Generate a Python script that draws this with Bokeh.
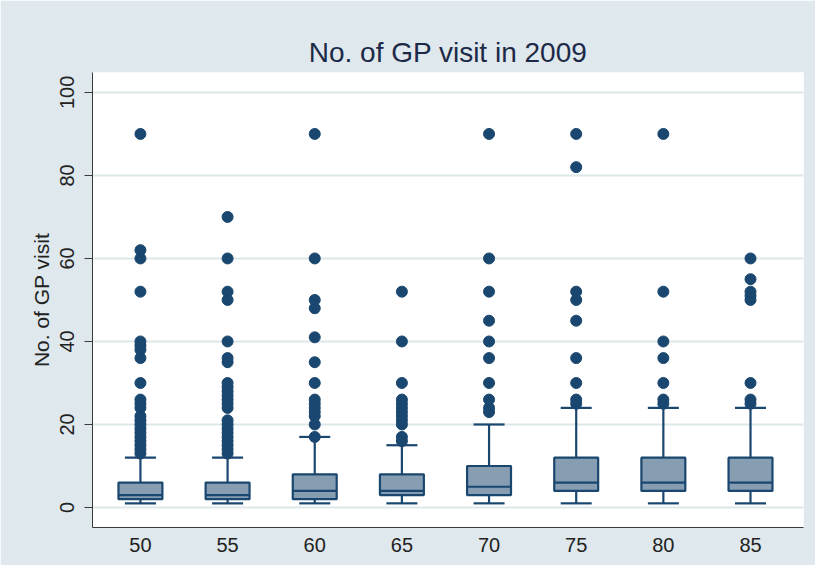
from bokeh.plotting import figure
from bokeh.models import FixedTicker, Range1d, ColumnDataSource
from bokeh.embed import file_html
from bokeh.resources import INLINE

# ---- data ----
ages = [50, 55, 60, 65, 70, 75, 80, 85]
lower_whisker = [1, 1, 1, 1, 1, 1, 1, 1]
q1 = [2, 2, 2, 3, 3, 4, 4, 4]
median = [3, 3, 4, 4, 5, 6, 6, 6]
q3 = [6, 6, 8, 8, 10, 12, 12, 12]
upper_whisker = [12, 12, 17, 15, 20, 24, 24, 24]

outliers_50 = [13, 14, 15, 16, 17, 18, 19, 20, 21, 22, 24, 25, 26, 30, 36, 38, 39, 40, 52, 60, 62, 90]
outliers_55 = [13, 14, 15, 16, 17, 18, 19, 20, 21, 24, 25, 26, 27, 28, 29, 30, 35, 36, 40, 50, 52, 60, 70]
outliers_60 = [17, 20, 22, 23, 24, 25, 26, 30, 35, 41, 48, 50, 60, 90]
outliers_65 = [16, 17, 20, 21, 22, 23, 24, 25, 26, 30, 40, 52]
outliers_70 = [23, 24, 26, 30, 36, 40, 45, 52, 60, 90]
outliers_75 = [25, 26, 30, 36, 45, 50, 52, 82, 90]
outliers_80 = [25, 26, 30, 36, 40, 52, 90]
outliers_85 = [25, 26, 30, 50, 51, 52, 55, 60]

y_ticks = [0, 20, 40, 60, 80, 100]
title_text = "No. of GP visit in 2009"
y_label = "No. of GP visit"

# ---- styling ----
DARK = "#1a476f"
FILL = "#879db2"
BG = "#dfe8ec"
box_w = 2.52
cap_w = 1.78

p = figure(width=815, height=565, output_backend="svg", toolbar_location=None,
           x_range=Range1d(47.25, 88.04), y_range=Range1d(-4.82, 104.8),
           min_border_left=92, min_border_right=12, min_border_top=72, min_border_bottom=38,
           background_fill_color="white", border_fill_color=BG, outline_line_color=None)

p.title.text = title_text
p.title.align = "center"
p.title.text_font = "Liberation Sans"
p.title.text_font_size = "28px"
p.title.text_font_style = "normal"
p.title.text_color = "#1c2a48"
p.title.standoff = 9

src = ColumnDataSource(dict(x=ages, lw=lower_whisker, q1=q1, med=median, q3=q3, uw=upper_whisker,
                            cl=[a - cap_w / 2 for a in ages], cr=[a + cap_w / 2 for a in ages],
                            bl=[a - box_w / 2 for a in ages], br=[a + box_w / 2 for a in ages]))

# whiskers
p.segment(x0="x", y0="q3", x1="x", y1="uw", source=src, line_color=DARK, line_width=2.2)
p.segment(x0="x", y0="lw", x1="x", y1="q1", source=src, line_color=DARK, line_width=2.2)
p.segment(x0="cl", y0="uw", x1="cr", y1="uw", source=src, line_color=DARK, line_width=2.2)
p.segment(x0="cl", y0="lw", x1="cr", y1="lw", source=src, line_color=DARK, line_width=2.2)
# boxes
p.vbar(x="x", width=box_w, bottom="q1", top="q3", source=src,
       fill_color=FILL, line_color=DARK, line_width=2.2)
p.segment(x0="bl", y0="med", x1="br", y1="med", source=src, line_color=DARK, line_width=2.2)

# outliers
all_out = [outliers_50, outliers_55, outliers_60, outliers_65,
           outliers_70, outliers_75, outliers_80, outliers_85]
ox, oy = [], []
for a, vals in zip(ages, all_out):
    for v in vals:
        ox.append(a)
        oy.append(v)
p.scatter(ox, oy, size=11, fill_color=DARK, line_color=DARK)

# axes
p.xaxis.ticker = FixedTicker(ticks=ages)
p.yaxis.ticker = FixedTicker(ticks=y_ticks)
p.xaxis.major_tick_out = 0
p.xaxis.major_tick_in = 0
p.xaxis.minor_tick_line_color = None
p.yaxis.minor_tick_line_color = None
p.yaxis.major_tick_in = 0
p.yaxis.major_tick_out = 8
p.xaxis.major_label_standoff = 10
p.yaxis.major_label_standoff = 10
p.yaxis.major_label_orientation = "vertical"
for ax in (p.xaxis, p.yaxis):
    ax.axis_line_color = "#3a3a3a"
    ax.major_tick_line_color = "#3a3a3a"
    ax.major_label_text_font = "Liberation Sans"
    ax.major_label_text_font_size = "20px"
    ax.major_label_text_color = "#222222"
p.yaxis.axis_label = y_label
p.yaxis.axis_label_text_font = "Liberation Sans"
p.yaxis.axis_label_text_font_size = "21px"
p.yaxis.axis_label_text_font_style = "normal"
p.yaxis.axis_label_text_color = "#222222"
p.yaxis.axis_label_standoff = 5

p.xgrid.grid_line_color = None
p.ygrid.grid_line_color = "#dde7ea"
p.ygrid.grid_line_width = 2

open("out.html", "w").write(file_html(p, INLINE))
